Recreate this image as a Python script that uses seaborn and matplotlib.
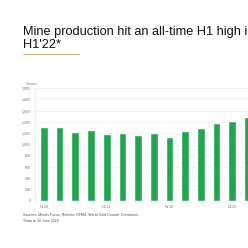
import matplotlib
matplotlib.use("Agg")
import matplotlib.pyplot as plt
import seaborn as sns
import pandas as pd

periods = ["H1'08", "H1'09", "H1'10", "H1'11", "H1'12", "H1'13", "H1'14",
           "H1'15", "H1'16", "H1'17", "H1'18", "H1'19", "H1'20", "H1'21"]
tonnes = [1304, 1315, 1221, 1257, 1186, 1198, 1168, 1209, 1127, 1233, 1298, 1381, 1410, 1492]
yticks = [0, 200, 400, 600, 800, 1000, 1200, 1400, 1600, 1800, 2000]
ytick_labels = ["0", "200", "400", "600", "800", "1,000", "1,200", "1,400", "1,600", "1,800", "2,000"]
xtick_labels = ["H1'08", "H1'12", "H1'16", "H1'20"]

sns.set_theme(style="white")
plt.rcParams['font.family'] = ['Liberation Sans', 'DejaVu Sans']

W = 248
fig = plt.figure(figsize=(2.48, 2.48), dpi=100)
fig.patch.set_facecolor("white")

ax = fig.add_axes([35 / W, 47 / W, (W - 35) / W, 113 / W])
df = pd.DataFrame({"period": periods, "tonnes": tonnes})
sns.barplot(data=df, x="period", y="tonnes", color="#24a450", width=0.49,
            saturation=1, ax=ax)
ax.set_xlim(-0.57, 13.0)
ax.set_ylim(0, 2000)
ax.set_yticks(yticks)
ax.set_yticklabels(ytick_labels)
ax.set_xticks([0, 4, 8, 12])
ax.set_xticklabels(xtick_labels)
ax.tick_params(axis="both", labelsize=2.6, colors="#777777", length=0, pad=3)
ax.set_xlabel("")
ax.set_ylabel("")
ax.yaxis.grid(True, color="#ececec", linewidth=0.5)
ax.set_axisbelow(True)
for s in ["top", "right", "bottom"]:
    ax.spines[s].set_visible(False)
ax.spines["left"].set_color("#e6e6e6")
ax.spines["left"].set_linewidth(0.5)

fig.text(26 / W, 1 - 84 / W, "Tonnes", fontsize=2.6, color="#777777", va="center")

fig.text(23 / W, 1 - 34.5 / W, "Mine production hit an all-time H1 high in",
         fontsize=9.2, color="#111111", va="baseline")
fig.text(23 / W, 1 - 47.5 / W, "H1'22*",
         fontsize=9.2, color="#111111", va="baseline")
fig.add_artist(plt.Line2D([23 / W, 79 / W], [1 - 53.5 / W, 1 - 53.5 / W],
                          color="#c9b17c", linewidth=0.8))

fig.text(23 / W, 1 - 215 / W,
         "Sources: Metals Focus, Refinitiv GFMS, World Gold Council; Disclaimer",
         fontsize=2.6, color="#555555", va="center")
fig.text(23 / W, 1 - 220.5 / W, "*Data to 30 June 2022",
         fontsize=2.6, color="#555555", va="center")

fig.savefig("out.png", dpi=100, facecolor="white")
